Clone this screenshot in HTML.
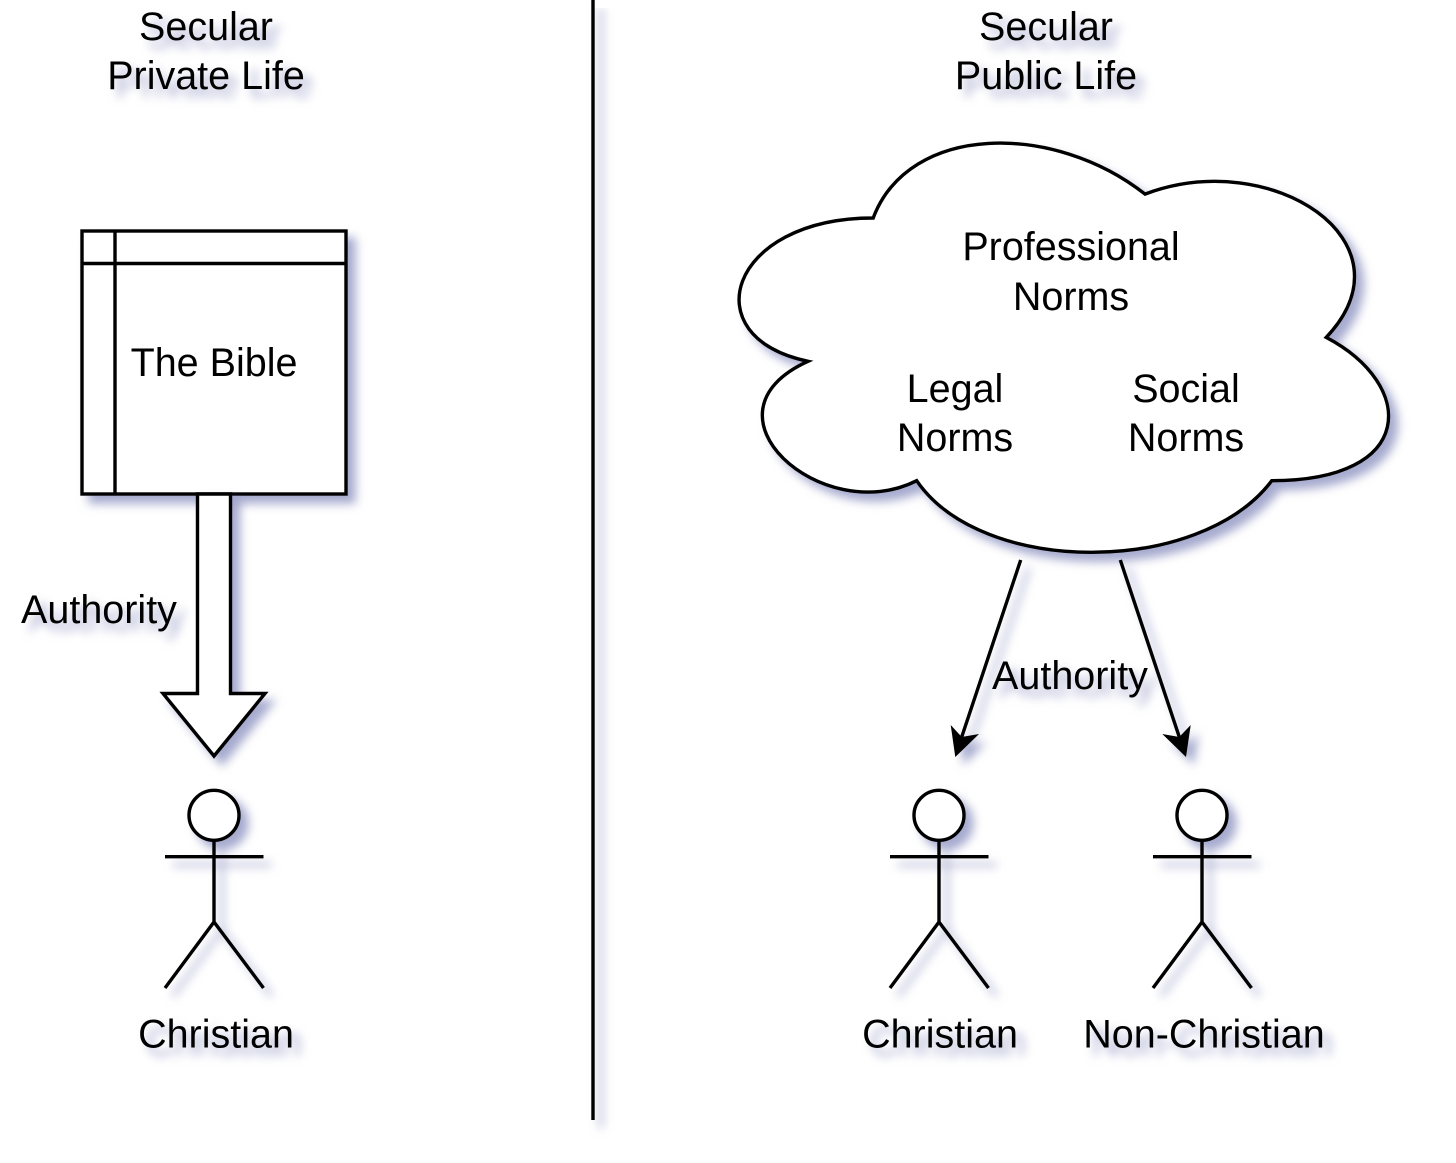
<!DOCTYPE html>
<html>
<head>
<meta charset="utf-8">
<style>
html,body{margin:0;padding:0;background:#fff;}
svg{display:block;}
text{font-family:"Liberation Sans",Arial,sans-serif;font-size:39.5px;fill:#000;text-anchor:middle;}
.s{fill:#fff;stroke:#000;stroke-width:3.4;stroke-linejoin:miter;}
.l{fill:none;stroke:#000;stroke-width:3.4;stroke-linejoin:miter;}
</style>
</head>
<body>
<svg width="1456" height="1163" viewBox="0 0 1456 1163" xmlns="http://www.w3.org/2000/svg">
<defs>
<filter id="sh" filterUnits="userSpaceOnUse" x="0" y="0" width="1456" height="1163" color-interpolation-filters="sRGB">
<feGaussianBlur in="SourceAlpha" stdDeviation="4.8"/>
<feOffset dx="8" dy="8" result="b"/>
<feFlood flood-color="#6a72ad" flood-opacity="0.6"/>
<feComposite in2="b" operator="in"/>
<feMerge><feMergeNode/><feMergeNode in="SourceGraphic"/></feMerge>
</filter>
</defs>

<g filter="url(#sh)">
<path class="l" d="M593 0V1120"/>
</g>

<g filter="url(#sh)">
<text x="206" y="40">Secular</text>
<text x="206" y="89">Private Life</text>
<text x="1046" y="40">Secular</text>
<text x="1046" y="89">Public Life</text>
</g>

<g filter="url(#sh)">
<rect class="s" x="82" y="231" width="264" height="263"/>
<path class="l" d="M115 231V494M82 263.5H346"/>
</g>
<text x="214" y="376">The Bible</text>

<g filter="url(#sh)">
<path class="s" d="M197.5 494H230.5V693.5H265L214 756L163 693.5H197.5Z"/>
</g>

<g filter="url(#sh)">
<text x="99" y="623">Authority</text>
</g>

<g filter="url(#sh)">
<path class="s" d="M873.2 218C728.2 218 692 337.4 808 361.3C692 413.8 822.5 528.4 916.7 480.7C981.9 576.2 1199.4 576.2 1271.8 480.7C1416.8 480.7 1416.8 385.2 1326.2 337.4C1416.8 241.9 1271.8 146.4 1145 194.1C1054.4 122.5 909.4 122.5 873.2 218Z"/>
</g>
<text x="1071" y="260">Professional</text>
<text x="1071" y="310">Norms</text>
<text x="955" y="402">Legal</text>
<text x="955" y="451">Norms</text>
<text x="1186" y="402">Social</text>
<text x="1186" y="451">Norms</text>

<g filter="url(#sh)">
<path class="l" d="M1020.7 560L961.7 737"/>
<path d="M955.3 757L950.7 725L961.7 737L979 734Z" fill="#000"/>
</g>
<g filter="url(#sh)">
<path class="l" d="M1120.3 560L1179.3 737"/>
<path d="M1186 757L1190.7 725L1179.3 737L1162.3 734Z" fill="#000"/>
</g>
<g filter="url(#sh)">
<text x="1070" y="689">Authority</text>
</g>

<g filter="url(#sh)">
<circle class="s" cx="214" cy="815.3" r="25"/>
<path class="l" d="M214 840.5V922M165 856.7H263.5M165 988L214 922L263.5 988"/>
<text x="216" y="1047.5">Christian</text>
</g>
<g filter="url(#sh)">
<circle class="s" cx="939" cy="815.3" r="25"/>
<path class="l" d="M939 840.5V922M890 856.7H988.5M890 988L939 922L988.5 988"/>
<text x="940" y="1047.5">Christian</text>
</g>
<g filter="url(#sh)">
<circle class="s" cx="1202" cy="815.3" r="25"/>
<path class="l" d="M1202 840.5V922M1153 856.7H1251.5M1153 988L1202 922L1251.5 988"/>
<text x="1204" y="1047.5">Non-Christian</text>
</g>
</svg>
</body>
</html>
